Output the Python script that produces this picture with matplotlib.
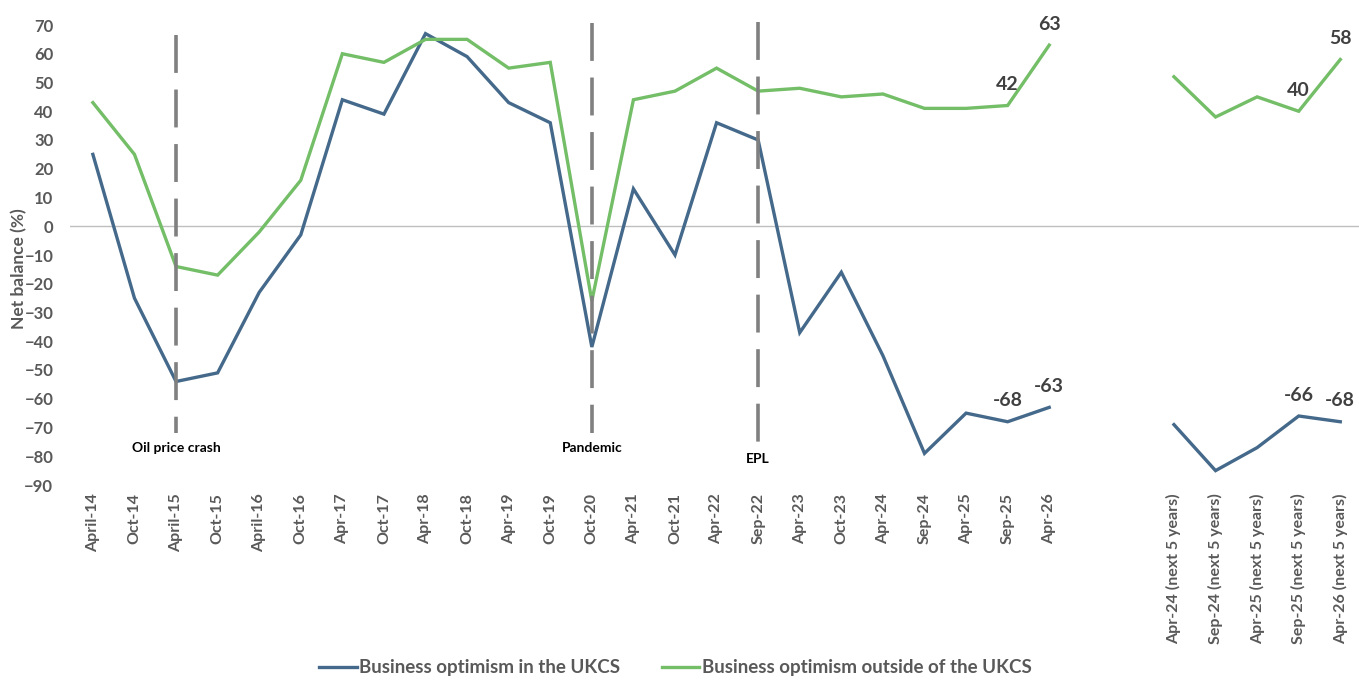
import numpy as np
import matplotlib
matplotlib.use("Agg")
import matplotlib.pyplot as plt

plt.rcParams['font.family'] = ['Lato', 'DejaVu Sans']

categories = ["April-14", "Oct-14", "April-15", "Oct-15", "April-16", "Oct-16",
              "Apr-17", "Oct-17", "Apr-18", "Oct-18", "Apr-19", "Oct-19",
              "Oct-20", "Apr-21", "Oct-21", "Apr-22", "Sep-22", "Apr-23",
              "Oct-23", "Apr-24", "Sep-24", "Apr-25", "Sep-25", "Apr-26",
              "", "",
              "Apr-24 (next 5 years)", "Sep-24 (next 5 years)",
              "Apr-25 (next 5 years)", "Sep-25 (next 5 years)",
              "Apr-26 (next 5 years)"]

ukcs = [25, -25, -54, -51, -23, -3, 44, 39, 67, 59, 43, 36,
        -42, 13, -10, 36, 30, -37, -16, -45, -79, -65, -68, -63,
        np.nan, np.nan,
        -69, -85, -77, -66, -68]

outside = [43, 25, -14, -17, -2, 16, 60, 57, 65, 65, 55, 57,
           -26, 44, 47, 55, 47, 48, 45, 46, 41, 41, 42, 63,
           np.nan, np.nan,
           52, 38, 45, 40, 58]

events = [("April-15", "Oil price crash"), ("Oct-20", "Pandemic"), ("Sep-22", "EPL")]
labelled_idx = [22, 23, 29, 30]

BLUE = "#44698A"
GREEN = "#74BE68"
GREY_TXT = "#595959"

fig = plt.figure(figsize=(13.59, 6.8), dpi=100)
ax = fig.add_axes([70/1359, 195/680, 1 - 70/1359, 460/680])

x = np.arange(len(categories))
ax.plot(x, ukcs, color=BLUE, lw=2.4, label="Business optimism in the UKCS", solid_joinstyle='miter', zorder=2)
ax.plot(x, outside, color=GREEN, lw=2.4, label="Business optimism outside of the UKCS", solid_joinstyle='miter', zorder=2)

ax.axhline(0, color="#BFBFBF", lw=1.0, zorder=0)

ax.set_xlim(-0.55, len(categories) - 0.55)
ax.set_ylim(-90, 70)
ax.set_yticks(np.arange(-90, 71, 10))
ax.set_xticks(x)
ax.set_xticklabels(categories, rotation=90, fontsize=11.5, fontweight='bold', color=GREY_TXT)
ax.tick_params(axis='both', length=0, pad=6)
ax.tick_params(axis='y', pad=12)
for lab in ax.get_yticklabels():
    lab.set_fontsize(12)
    lab.set_fontweight('bold')
    lab.set_color(GREY_TXT)
for s in ax.spines.values():
    s.set_visible(False)
ax.set_ylabel("Net balance (%)", fontsize=12.5, fontweight='bold', color=GREY_TXT)
ax.yaxis.set_label_coords(-0.0335, 0.47)

# event lines (drawn top -> bottom so the dash pattern starts at the top)
tops = {"April-15": 66.5, "Oct-20": 70.8, "Sep-22": 71.2}
bottoms = {"April-15": -72, "Oct-20": -72, "Sep-22": -75}
text_y = {"April-15": -77, "Oct-20": -77, "Sep-22": -81}
for cat, txt in events:
    i = categories.index(cat)
    ax.plot([i, i], [tops[cat], bottoms[cat]], color="#808080", lw=2.6,
            dashes=(10.5, 4.6), zorder=3, clip_on=False)
    ax.text(i, text_y[cat], txt, ha='center', va='center', fontsize=10,
            fontweight='bold', color='black')

# data labels
for i in labelled_idx:
    for series in (ukcs, outside):
        v = series[i]
        ax.annotate(f"{v:.0f}", (i, v), xytext=(0, 15), textcoords='offset points',
                    ha='center', va='center', fontsize=14, fontweight='bold',
                    color="#404040", annotation_clip=False)

leg = fig.legend(loc='center', bbox_to_anchor=(0.497, 0.018), ncol=2, frameon=False,
                 fontsize=13.5, handlelength=2.0, columnspacing=2.2, handletextpad=0.15)
for t in leg.get_texts():
    t.set_fontweight('bold')
    t.set_color(GREY_TXT)

fig.savefig("out.png", dpi=100)
